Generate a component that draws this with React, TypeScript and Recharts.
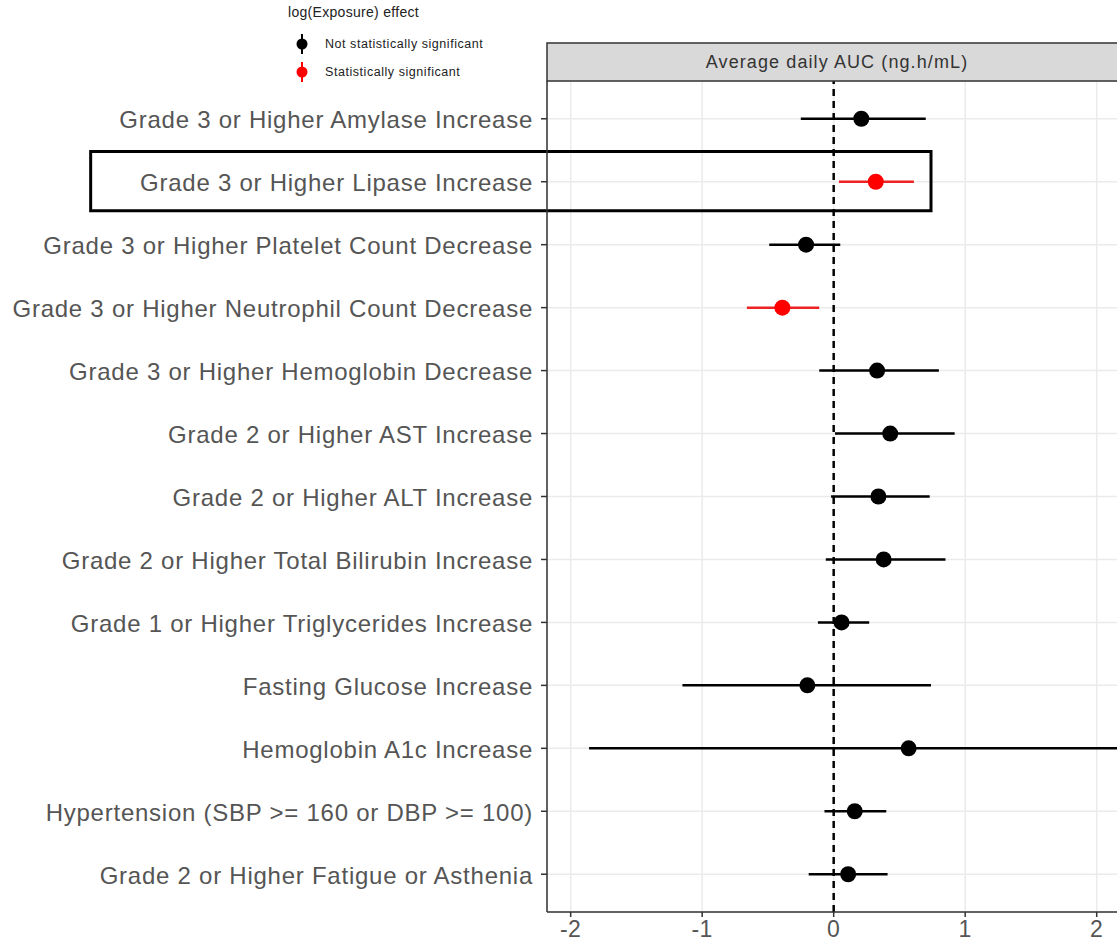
import React from "react";
import {
  ScatterChart,
  Scatter,
  XAxis,
  YAxis,
  CartesianGrid,
  ErrorBar,
  ReferenceLine,
  ReferenceArea,
} from "recharts";

const labels = [
  "Grade 3 or Higher Amylase Increase",
  "Grade 3 or Higher Lipase Increase",
  "Grade 3 or Higher Platelet Count Decrease",
  "Grade 3 or Higher Neutrophil Count Decrease",
  "Grade 3 or Higher Hemoglobin Decrease",
  "Grade 2 or Higher AST Increase",
  "Grade 2 or Higher ALT Increase",
  "Grade 2 or Higher Total Bilirubin Increase",
  "Grade 1 or Higher Triglycerides Increase",
  "Fasting Glucose Increase",
  "Hemoglobin A1c Increase",
  "Hypertension (SBP >= 160 or DBP >= 100)",
  "Grade 2 or Higher Fatigue or Asthenia",
];
const estimate = [0.21, 0.32, -0.21, -0.39, 0.33, 0.43, 0.34, 0.38, 0.06, -0.2, 0.57, 0.16, 0.11];
const lower = [-0.25, 0.04, -0.49, -0.66, -0.11, 0.01, -0.02, -0.06, -0.12, -1.15, -1.86, -0.07, -0.19];
const upper = [0.7, 0.61, 0.05, -0.11, 0.8, 0.92, 0.73, 0.85, 0.27, 0.74, 2.6, 0.4, 0.41];
const significant = [false, true, false, true, false, false, false, false, false, false, false, false, false];
const xTicks = [-2, -1, 0, 1, 2];

// boxed row (Lipase) and the annotation box extent in x units
const highlightRow = 1;
const boxLeft = -5.65;
const boxRight = 0.74;

const rows = labels.map((label, i) => ({
  row: i,
  est: estimate[i],
  err: [estimate[i] - lower[i], upper[i] - estimate[i]],
}));
const notSig = rows.filter((r) => !significant[r.row]);
const sig = rows.filter((r) => significant[r.row]);

const FONT = "'Liberation Sans', Arial, sans-serif";

const Dot = (color: string) => (props: any) =>
  <circle cx={props.cx} cy={props.cy} r={8} fill={color} />;

const StripLabel = (props: any) => {
  const { x, y, width, height } = props.viewBox;
  return (
    <g>
      <rect x={x} y={y} width={width} height={height} fill="#d9d9d9" stroke="#333" strokeWidth={1.5} />
      <text
        x={x + width / 2 + 2}
        y={y + height / 2 + 6}
        textAnchor="middle"
        fontSize={18}
        letterSpacing={1.1}
        fill="#333"
        fontFamily={FONT}
      >
        Average daily AUC (ng.h/mL)
      </text>
    </g>
  );
};

function LegendBox() {
  const item = (color: string, text: string, top: number) => (
    <div style={{ position: "absolute", left: 0, top, display: "flex", alignItems: "center" }}>
      <svg width={30} height={24}>
        <line x1={14} x2={14} y1={2} y2={22} stroke={color} strokeWidth={2} />
        <circle cx={14} cy={12} r={5.5} fill={color} />
      </svg>
      <span style={{ fontSize: 12.5, letterSpacing: 0.55, color: "#222", marginLeft: 7 }}>{text}</span>
    </div>
  );
  return (
    <div style={{ position: "absolute", left: 288, top: 4, width: 260, height: 90, fontFamily: FONT }}>
      <div style={{ fontSize: 14, letterSpacing: 0.3, color: "#222" }}>log(Exposure) effect</div>
      {item("#000", "Not statistically significant", 28)}
      {item("red", "Statistically significant", 56)}
    </div>
  );
}

export default function App() {
  return (
    <div style={{ position: "fixed", left: 0, top: 0, width: 1117, height: 943, overflow: "hidden", background: "#fff" }}>
      <LegendBox />
      <ScatterChart width={1131} height={943} margin={{ top: 43, right: 8, bottom: 0, left: 0 }}>
        <CartesianGrid stroke="#ebebeb" strokeWidth={1.5} />
        <XAxis
          xAxisId="strip"
          orientation="top"
          type="number"
          domain={[-2.18, 2.2]}
          allowDataOverflow
          height={38}
          tick={false}
          tickLine={false}
          axisLine={false}
          label={{ content: StripLabel } as any}
        />
        <XAxis
          type="number"
          dataKey="est"
          domain={[-2.18, 2.2]}
          allowDataOverflow
          ticks={xTicks}
          height={31}
          tickSize={5}
          tickMargin={4}
          axisLine={{ stroke: "#333", strokeWidth: 1.5 }}
          tickLine={{ stroke: "#333", strokeWidth: 1.5 }}
          tick={{ fontSize: 23, letterSpacing: 0.5, fill: "#555", fontFamily: FONT }}
        />
        <YAxis
          type="number"
          dataKey="row"
          domain={[-0.6, 12.6]}
          reversed
          allowDataOverflow
          ticks={labels.map((_, i) => i)}
          interval={0}
          width={547}
          tickSize={6}
          tickMargin={8}
          tickFormatter={(v: number) => labels[v] ?? ""}
          axisLine={{ stroke: "#333", strokeWidth: 1.5 }}
          tickLine={{ stroke: "#333", strokeWidth: 1.5 }}
          tick={{ fontSize: 24, letterSpacing: 0.75, fill: "#555", fontFamily: FONT, dy: 1 }}
        />
        <ReferenceLine x={0} stroke="#000" strokeWidth={2.5} strokeDasharray="7 5" />
        <Scatter data={notSig} shape={Dot("#000")} isAnimationActive={false}>
          <ErrorBar dataKey="err" direction="x" width={0} stroke="#000" strokeWidth={2.5} isAnimationActive={false} />
        </Scatter>
        <Scatter data={sig} shape={Dot("red")} isAnimationActive={false}>
          <ErrorBar dataKey="err" direction="x" width={0} stroke="#ee2222" strokeWidth={2.5} isAnimationActive={false} />
        </Scatter>
        <ReferenceArea
          x1={boxLeft}
          x2={boxRight}
          y1={highlightRow - 0.48}
          y2={highlightRow + 0.46}
          ifOverflow="visible"
          fill="none"
          fillOpacity={0}
          stroke="#000"
          strokeWidth={3}
        />
      </ScatterChart>
    </div>
  );
}
